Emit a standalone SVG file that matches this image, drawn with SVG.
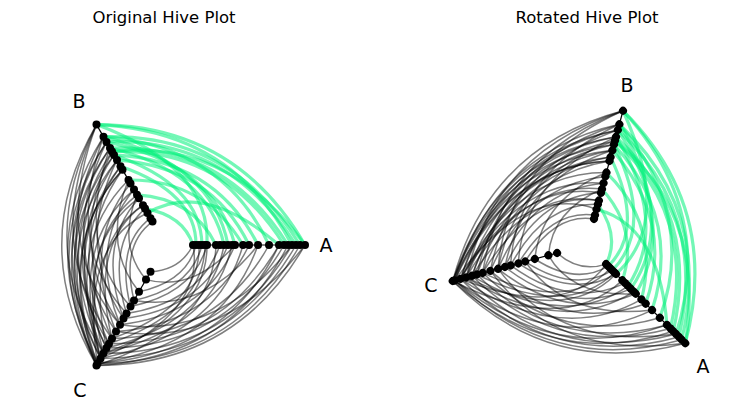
<svg xmlns="http://www.w3.org/2000/svg" xmlns:xlink="http://www.w3.org/1999/xlink" width="750" height="412" viewBox="0 0 750 412">
<style>
.t{font-family:"DejaVu Sans","Liberation Sans",sans-serif;font-size:16.5px;fill:#000;text-anchor:middle}
.l{font-family:"DejaVu Sans","Liberation Sans",sans-serif;font-size:19px;fill:#000;text-anchor:middle}
.g path{fill:none;stroke:#00f07a;stroke-opacity:.55;stroke-width:3.2}
.k path{fill:none;stroke:#000;stroke-opacity:.5;stroke-width:1.5}
.ax line{stroke:#000;stroke-width:1.2}
.n circle{fill:#000;r:4}
</style>
<defs>
<g id="hive">
<g id="connectors">
<g class="k">
<path d="M139,0Q69.5,120.4 -69.5,120.4"/><path d="M134,0Q67.8,117.3 -68.5,118.6"/><path d="M130,0Q65.3,113 -65.5,113.4"/><path d="M126,0Q62.8,108.7 -62.5,108.3"/><path d="M122,0Q65.3,113 -69.5,120.4"/><path d="M118,0Q59.3,102.6 -59.5,103.1"/><path d="M113,0Q56.8,98.3 -57,98.7"/><path d="M103,0Q52.8,91.4 -54,93.5"/><path d="M92,0Q57.3,99.2 -68.5,118.6"/><path d="M83,0Q45.8,79.2 -50,86.6"/><path d="M77,0Q52,90.1 -65.5,113.4"/><path d="M69,0Q40.3,69.7 -46,79.7"/><path d="M66,0Q47.8,82.7 -62.5,108.3"/><path d="M62,0Q36.8,63.7 -42.5,73.6"/><path d="M58,0Q44.3,76.6 -59.5,103.1"/><path d="M54,0Q33.3,57.6 -39.5,68.4"/><path d="M50,0Q47.3,81.8 -69.5,120.4"/><path d="M41,0Q28,48.5 -35.5,61.5"/><path d="M39,0Q38.3,66.2 -57,98.7"/><path d="M36,0Q25,43.3 -32,55.4"/><path d="M33,0Q35.3,61.1 -54,93.5"/><path d="M30,0Q21,36.4 -27,46.8"/><path d="M27,0Q14.5,25.1 -15.5,26.8"/><path d="M139,0Q59.8,103.5 -50,86.6"/><path d="M126,0Q54.5,94.4 -46,79.7"/><path d="M113,0Q62.5,108.3 -68.5,118.6"/><path d="M27,0Q39.5,68.4 -65.5,113.4"/><path d="M92,0Q39,67.5 -32,55.4"/><path d="M41,0Q41.5,71.9 -62.5,108.3"/><path d="M69,0Q27.3,47.2 -20,34.6"/>
<path d="M-69.5,-120.4Q-139,0 -69.5,120.4"/><path d="M-62.5,-108.3Q-131,0 -68.5,118.6"/><path d="M-59.5,-103.1Q-125,0 -65.5,113.4"/><path d="M-56,-97Q-125.5,0 -69.5,120.4"/><path d="M-54,-93.5Q-116.5,0 -62.5,108.3"/><path d="M-52,-90.1Q-111.5,0 -59.5,103.1"/><path d="M-49,-84.9Q-117.5,0 -68.5,118.6"/><path d="M-45.5,-78.8Q-102.5,0 -57,98.7"/><path d="M-43.5,-75.3Q-97.5,0 -54,93.5"/><path d="M-37.5,-65Q-103,0 -65.5,113.4"/><path d="M-35.5,-61.5Q-85.5,0 -50,86.6"/><path d="M-32,-55.4Q-78,0 -46,79.7"/><path d="M-29,-50.2Q-91.5,0 -62.5,108.3"/><path d="M-27,-46.8Q-69.5,0 -42.5,73.6"/><path d="M-23,-39.8Q-82.5,0 -59.5,103.1"/><path d="M-21,-36.4Q-60.5,0 -39.5,68.4"/><path d="M-18.5,-32Q-87,0 -68.5,118.6"/><path d="M-15.5,-26.8Q-51,0 -35.5,61.5"/><path d="M-13.5,-23.4Q-45.5,0 -32,55.4"/><path d="M-69.5,-120.4Q-123.5,0 -54,93.5"/><path d="M-62.5,-108.3Q-119.5,0 -57,98.7"/><path d="M-59.5,-103.1Q-109.5,0 -50,86.6"/><path d="M-56,-97Q-121.5,0 -65.5,113.4"/><path d="M-54,-93.5Q-100,0 -46,79.7"/><path d="M-52,-90.1Q-121.5,0 -69.5,120.4"/><path d="M-49,-84.9Q-91.5,0 -42.5,73.6"/><path d="M-45.5,-78.8Q-108,0 -62.5,108.3"/><path d="M-43.5,-75.3Q-112,0 -68.5,118.6"/><path d="M-69.5,-120.4Q-132,0 -62.5,108.3"/><path d="M-62.5,-108.3Q-102,0 -39.5,68.4"/><path d="M-37.5,-65Q-64.5,0 -27,46.8"/><path d="M-32,-55.4Q-97.5,0 -65.5,113.4"/><path d="M-29,-50.2Q-49,0 -20,34.6"/><path d="M-59.5,-103.1Q-129,0 -69.5,120.4"/><path d="M-56,-97Q-91.5,0 -35.5,61.5"/><path d="M-23,-39.8Q-77,0 -54,93.5"/><path d="M-49,-84.9Q-108.5,0 -59.5,103.1"/><path d="M-69.5,-120.4Q-115.5,0 -46,79.7"/><path d="M-43.5,-75.3Q-113,0 -69.5,120.4"/><path d="M-27,-46.8Q-92.5,0 -65.5,113.4"/>
</g>
<g class="g">
<path d="M139,0Q69.5,-120.4 -69.5,-120.4"/><path d="M134,0Q64.8,-112.1 -62.5,-108.3"/><path d="M130,0Q62.3,-107.8 -59.5,-103.1"/><path d="M126,0Q66.3,-114.7 -69.5,-120.4"/><path d="M122,0Q58.5,-101.3 -56,-97"/><path d="M118,0Q56.5,-97.9 -54,-93.5"/><path d="M103,0Q57,-98.7 -62.5,-108.3"/><path d="M92,0Q49,-84.9 -52,-90.1"/><path d="M83,0Q45.3,-78.4 -49,-84.9"/><path d="M69,0Q47,-81.4 -59.5,-103.1"/><path d="M58,0Q42.5,-73.6 -56,-97"/><path d="M41,0Q45,-77.9 -69.5,-120.4"/><path d="M36,0Q35,-60.6 -52,-90.1"/><path d="M30,0Q30.3,-52.4 -45.5,-78.8"/><path d="M50,0Q27,-46.8 -29,-50.2"/><path d="M27,0Q17.3,-29.9 -21,-36.4"/><path d="M113,0Q37.5,-65 -18.5,-32"/><path d="M62,0Q46.8,-81 -62.5,-108.3"/><path d="M77,0Q38,-65.8 -37.5,-65"/><path d="M139,0Q61.8,-107 -54,-93.5"/>
</g>
</g>
<g class="ax"><line x1="27" y1="0" x2="139" y2="0"/><line x1="-13.5" y1="-23.4" x2="-69.5" y2="-120.4"/><line x1="-15.5" y1="26.8" x2="-69.5" y2="120.4"/></g>
<g id="axis-A" class="n"><circle cx="27" cy="0"/><circle cx="30" cy="0"/><circle cx="33" cy="0"/><circle cx="36" cy="0"/><circle cx="39" cy="0"/><circle cx="41" cy="0"/><circle cx="50" cy="0"/><circle cx="54" cy="0"/><circle cx="58" cy="0"/><circle cx="62" cy="0"/><circle cx="66" cy="0"/><circle cx="69" cy="0"/><circle cx="77" cy="0"/><circle cx="83" cy="0"/><circle cx="92" cy="0"/><circle cx="103" cy="0"/><circle cx="113" cy="0"/><circle cx="118" cy="0"/><circle cx="122" cy="0"/><circle cx="126" cy="0"/><circle cx="130" cy="0"/><circle cx="134" cy="0"/><circle cx="139" cy="0"/></g>
<g id="axis-B" class="n"><circle cx="-69.5" cy="-120.4"/><circle cx="-62.5" cy="-108.3"/><circle cx="-59.5" cy="-103.1"/><circle cx="-56" cy="-97"/><circle cx="-54" cy="-93.5"/><circle cx="-52" cy="-90.1"/><circle cx="-49" cy="-84.9"/><circle cx="-45.5" cy="-78.8"/><circle cx="-43.5" cy="-75.3"/><circle cx="-37.5" cy="-65"/><circle cx="-35.5" cy="-61.5"/><circle cx="-32" cy="-55.4"/><circle cx="-29" cy="-50.2"/><circle cx="-27" cy="-46.8"/><circle cx="-23" cy="-39.8"/><circle cx="-21" cy="-36.4"/><circle cx="-18.5" cy="-32"/><circle cx="-15.5" cy="-26.8"/><circle cx="-13.5" cy="-23.4"/></g>
<g id="axis-C" class="n"><circle cx="-15.5" cy="26.8"/><circle cx="-20" cy="34.6"/><circle cx="-27" cy="46.8"/><circle cx="-32" cy="55.4"/><circle cx="-35.5" cy="61.5"/><circle cx="-39.5" cy="68.4"/><circle cx="-42.5" cy="73.6"/><circle cx="-46" cy="79.7"/><circle cx="-50" cy="86.6"/><circle cx="-54" cy="93.5"/><circle cx="-57" cy="98.7"/><circle cx="-59.5" cy="103.1"/><circle cx="-62.5" cy="108.3"/><circle cx="-65.5" cy="113.4"/><circle cx="-68.5" cy="118.6"/><circle cx="-69.5" cy="120.4"/></g>
</g>
</defs>
<rect width="750" height="412" fill="#fff"/>
<g id="original"><use href="#hive" xlink:href="#hive" transform="translate(166,245)"/></g>
<g id="rotated"><use href="#hive" xlink:href="#hive" transform="translate(587,245) rotate(45)"/></g>
<g id="labels">
<text class="t" x="164" y="23">Original Hive Plot</text>
<text class="t" x="587" y="23">Rotated Hive Plot</text>
<text class="l" x="326" y="252">A</text>
<text class="l" x="79" y="108">B</text>
<text class="l" x="80" y="397">C</text>
<text class="l" x="627" y="92">B</text>
<text class="l" x="431" y="292">C</text>
<text class="l" x="703" y="373">A</text>
</g>
</svg>
